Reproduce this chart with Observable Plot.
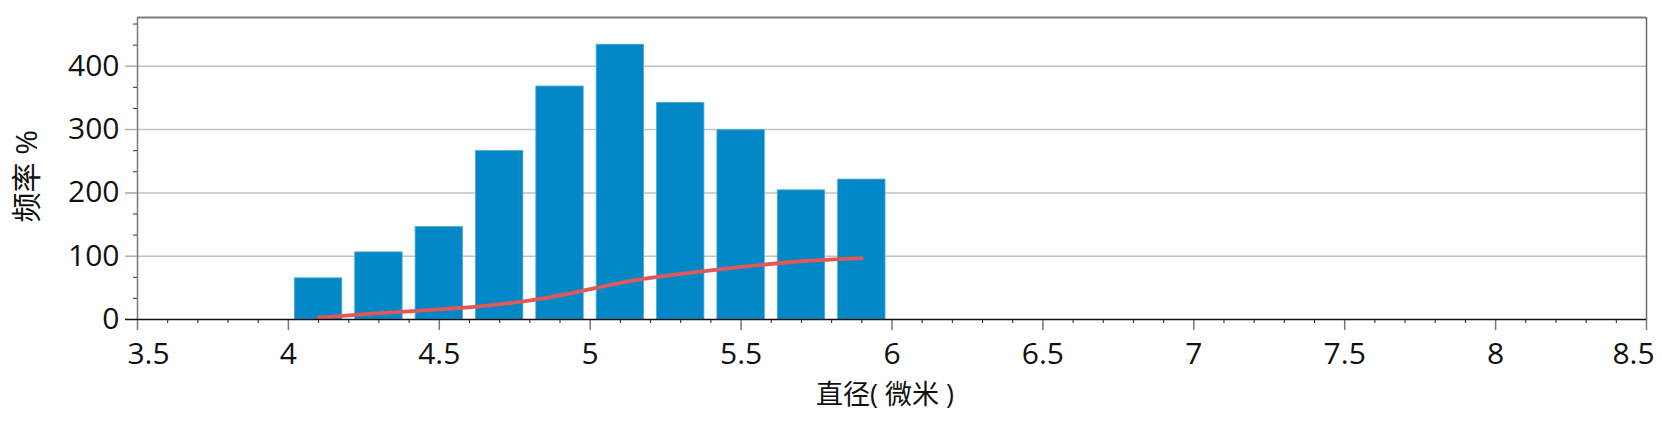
<!DOCTYPE html>
<html>
<head>
<meta charset="utf-8">
<script src="https://cdn.jsdelivr.net/npm/d3@7"></script>
<script src="https://cdn.jsdelivr.net/npm/@observablehq/plot@0.6"></script>
<style>
  html, body { margin: 0; padding: 0; background: #fff; }
  svg { display: block; }
</style>
</head>
<body>
<div id="chart"></div>
<script>
// ---- data ----
const binCenters = [4.1, 4.3, 4.5, 4.7, 4.9, 5.1, 5.3, 5.5, 5.7, 5.9];
const frequency  = [65, 106, 146, 266, 368, 434, 342, 299, 204, 221];
const cumulative = [3, 10, 16, 24, 38, 58, 72, 83, 92, 97];
const xTicks = [3.5, 4, 4.5, 5, 5.5, 6, 6.5, 7, 7.5, 8, 8.5];
const xTickLabels = ["3.5", "4", "4.5", "5", "5.5", "6", "6.5", "7", "7.5", "8", "8.5"];
const yTicks = [0, 100, 200, 300, 400];
const yTickLabels = ["0", "100", "200", "300", "400"];
const xLabel = "直径( 微米 )";
const yLabel = "频率 %";

// ---- derived tables ----
const bars = binCenters.map((x, i) => ({x, f: frequency[i], c: cumulative[i]}));
const xMinor = d3.range(35, 86).filter(v => v % 5 !== 0).map(v => v / 10);
const yMinor = d3.range(0, 15).filter(i => i % 3 !== 0).map(i => i * 100 / 3);
const xLab = xTicks.map((v, i) => ({v, t: xTickLabels[i], i}));
const yLab = yTicks.map((v, i) => ({v, t: yTickLabels[i]}));

const X0 = 3.5, X1 = 8.5, YMAX = 477;
const halfBar = 0.0785;
const font = "'Open Sans', 'Noto Sans CJK SC', sans-serif";

const chart = Plot.plot({
  width: 1662,
  height: 435,
  marginLeft: 137,
  marginRight: 16,
  marginTop: 17,
  marginBottom: 116,
  style: {fontFamily: font, background: "#fff", color: "#111"},
  x: {type: "linear", domain: [X0, X1]},
  y: {type: "linear", domain: [0, YMAX]},
  marks: [
    // gridlines (extend left into the major tick)
    Plot.ruleY(yTicks.slice(1), {stroke: "#c2c2c2", strokeWidth: 1.5, insetLeft: -12}),
    // bars
    Plot.rectY(bars, {x1: d => d.x - halfBar, x2: d => d.x + halfBar, y1: 0, y2: "f",
      fill: "#0288c6", stroke: "#49a9da", strokeWidth: 0.8}),
    // cumulative curve
    Plot.line(bars, {x: "x", y: "c", curve: "natural", stroke: "#e25858", strokeWidth: 3.8,
      strokeLinecap: "round"}),
    // frame: top and right
    Plot.ruleY([YMAX], {stroke: "#7d7d7d", strokeWidth: 2}),
    Plot.ruleX([X1], {stroke: "#6a6a6a", strokeWidth: 1.5}),
    // left axis line
    Plot.ruleX([X0], {stroke: "#777", strokeWidth: 1.5}),
    // y ticks
    Plot.axisY(yMinor, {tickSize: 4, tickFormat: () => "", stroke: "#333", label: null}),
    Plot.axisY(yTicks.slice(1), {tickSize: 12, tickFormat: () => "", stroke: "#aaa", label: null}),
    // x ticks
    Plot.axisX(xMinor, {tickSize: 4, tickFormat: () => "", stroke: "#222", label: null}),
    Plot.axisX(xTicks, {tickSize: 11, tickFormat: () => "", stroke: "#777", strokeWidth: 1.5, label: null}),
    // baseline
    Plot.ruleY([0], {stroke: "#111", strokeWidth: 1.5, insetLeft: -12}),
    // y tick labels
    Plot.text(yLab, {x: X0, y: "v", text: "t", textAnchor: "end", dx: -18, fontSize: 30, fill: "#111"}),
    // x tick labels (first/last nudged inward as in the reference)
    Plot.text(xLab.filter(d => d.i > 0 && d.i < xLab.length - 1),
      {x: "v", y: 0, text: "t", dy: 35, fontSize: 30, fill: "#111"}),
    Plot.text(xLab.filter(d => d.i === 0),
      {x: "v", y: 0, text: "t", dy: 35, dx: 11, fontSize: 30, fill: "#111"}),
    Plot.text(xLab.filter(d => d.i === xLab.length - 1),
      {x: "v", y: 0, text: "t", dy: 35, dx: -13, fontSize: 30, fill: "#111"}),
    // axis titles
    Plot.text([xLabel], {frameAnchor: "bottom", dy: 84, dx: -7, fontSize: 27, fill: "#111"}),
    Plot.text([yLabel], {frameAnchor: "left", rotate: -90, dx: -110, dy: 54, fontSize: 30, fill: "#111"})
  ]
});
document.getElementById("chart").appendChild(chart);
</script>
</body>
</html>
